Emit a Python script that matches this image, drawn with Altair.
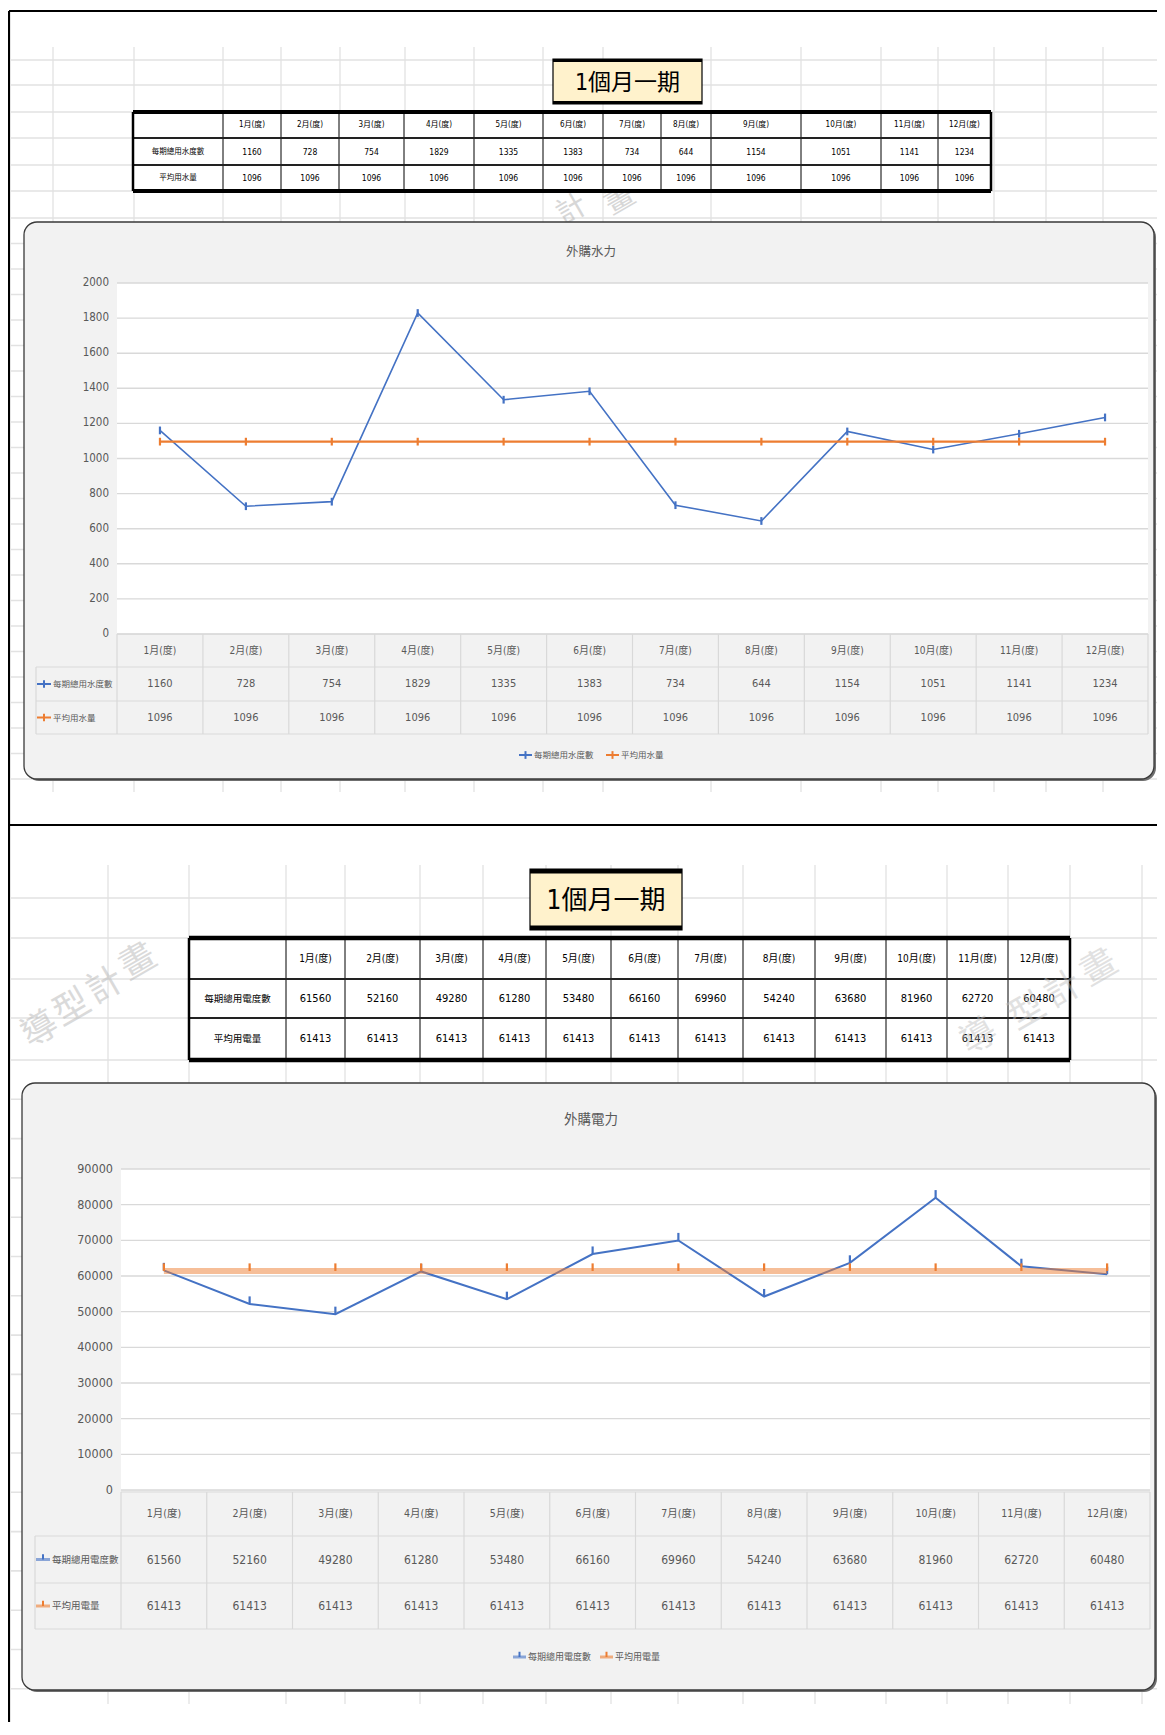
import altair as alt
import pandas as pd

# ---------------- data ----------------
box_title = "1個月一期"
months = ["1月(度)", "2月(度)", "3月(度)", "4月(度)", "5月(度)", "6月(度)",
          "7月(度)", "8月(度)", "9月(度)", "10月(度)", "11月(度)", "12月(度)"]

water_title = "外購水力"
water_series = ["每期總用水度數", "平均用水量"]
water_use = [1160, 728, 754, 1829, 1335, 1383, 734, 644, 1154, 1051, 1141, 1234]
water_avg = [1096, 1096, 1096, 1096, 1096, 1096, 1096, 1096, 1096, 1096, 1096, 1096]
water_ticks = [0, 200, 400, 600, 800, 1000, 1200, 1400, 1600, 1800, 2000]

elec_title = "外購電力"
elec_series = ["每期總用電度數", "平均用電量"]
elec_use = [61560, 52160, 49280, 61280, 53480, 66160, 69960, 54240, 63680, 81960, 62720, 60480]
elec_avg = [61413, 61413, 61413, 61413, 61413, 61413, 61413, 61413, 61413, 61413, 61413, 61413]
elec_ticks = [0, 10000, 20000, 30000, 40000, 50000, 60000, 70000, 80000, 90000]

watermark = ["導", "型", "計", "畫"]

# ---------------- layout / style ----------------
W, H = 1149, 1714
OX, OY = 8, 8
BLUE, ORANGE = "#4472C4", "#ED7D31"
GRID = "#D9D9D9"
SHEET = "#E2E2E2"
TXT = "#595959"
FONT = "Liberation Sans Narrow, Arial Narrow, DejaVu Sans Condensed, Noto Sans CJK TC, sans-serif"


def SX():
    return alt.Scale(domain=[OX, OX + W], range=[0, W])


def SY():
    return alt.Scale(domain=[OY, OY + H], range=[0, H])


def seg_layer(rows, color, width, opacity=1.0):
    df = pd.DataFrame(rows, columns=["x", "y", "x2", "y2"])
    return alt.Chart(df).mark_rule(color=color, strokeWidth=width, opacity=opacity).encode(
        x=alt.X("x:Q", scale=SX(), axis=None), y=alt.Y("y:Q", scale=SY(), axis=None),
        x2="x2:Q", y2="y2:Q")


def box_layer(rows, fill, stroke=None, sw=0, radius=0):
    df = pd.DataFrame(rows, columns=["x", "y", "x2", "y2"])
    kw = dict(fill=fill, cornerRadius=radius)
    if stroke:
        kw.update(stroke=stroke, strokeWidth=sw)
    return alt.Chart(df).mark_rect(**kw).encode(
        x=alt.X("x:Q", scale=SX(), axis=None), y=alt.Y("y:Q", scale=SY(), axis=None),
        x2="x2:Q", y2="y2:Q")


def text_layer(rows, size, color="black", align="center", angle=0, opacity=1.0):
    df = pd.DataFrame(rows, columns=["x", "y", "t"])
    return alt.Chart(df).mark_text(fontSize=size, color=color, align=align, baseline="middle",
                                   font=FONT, angle=angle, opacity=opacity).encode(
        x=alt.X("x:Q", scale=SX(), axis=None), y=alt.Y("y:Q", scale=SY(), axis=None), text="t:N")


def mark_layer(rows, color, shape, size, sw=2.0, opacity=1.0):
    df = pd.DataFrame(rows, columns=["x", "y"])
    return alt.Chart(df).mark_point(shape=shape, size=size, filled=False, color=color,
                                    strokeWidth=sw, opacity=opacity).encode(
        x=alt.X("x:Q", scale=SX(), axis=None), y=alt.Y("y:Q", scale=SY(), axis=None))


def swatch(x, y, color, g, length=15):
    out = [seg_layer([(x, y, x + length, y)], color, g["lw_sw"], g["sw_op"])]
    out.append(mark_layer([(x + length / 2, y)], color, g["shape"], g["msize_sw"], 2.0))
    return out


def sheet_table(xe, ye, labels, use, avg, fs_head, fs_val, fs_lab, outer_w):
    L = [box_layer([(xe[0], ye[0], xe[-1], ye[-1])], "white")]
    L.append(seg_layer([(x, ye[0], x, ye[-1]) for x in xe[1:-1]], "black", 1))
    L.append(seg_layer([(xe[0], y, xe[-1], y) for y in ye[1:-1]], "#222222", 2))
    L.append(seg_layer([(xe[0], ye[0], xe[-1], ye[0]), (xe[0], ye[-1], xe[-1], ye[-1])], "black", outer_w))
    L.append(seg_layer([(xe[0], ye[0], xe[0], ye[-1]), (xe[-1], ye[0], xe[-1], ye[-1])], "black", 2.5))
    cx = [(a + b) / 2 for a, b in zip(xe[:-1], xe[1:])]
    cy = [(a + b) / 2 for a, b in zip(ye[:-1], ye[1:])]
    L.append(text_layer([(cx[i + 1], cy[0], m) for i, m in enumerate(months)], fs_head))
    L.append(text_layer([(cx[i + 1], cy[1], str(v)) for i, v in enumerate(use)] +
                        [(cx[i + 1], cy[2], str(v)) for i, v in enumerate(avg)], fs_val))
    L.append(text_layer([(cx[0], cy[1], labels[0]), (cx[0], cy[2], labels[1])], fs_lab))
    return L


def title_box(x0, y0, x1, y1, fs, bw):
    L = [box_layer([(x0, y0, x1, y1)], "#FFF2CC", stroke="black", sw=1.2)]
    L.append(seg_layer([(x0, y0 + bw / 2, x1, y0 + bw / 2), (x0, y1 - bw / 2, x1, y1 - bw / 2)], "black", bw))
    L.append(text_layer([((x0 + x1) / 2, (y0 + y1) / 2 + 1, box_title)], fs))
    return L


def line_chart(use, avg, series, ticks, ymax, title, g):
    L = []
    px0, py1, px1, py0 = g["plot"]
    xs = alt.Scale(domain=[-0.5, 11.5], range=[px0 - OX, px1 - OX])
    ys = alt.Scale(domain=[0, ymax], range=[py0 - OY, py1 - OY], nice=False, zero=False)
    df = pd.DataFrame({"idx": list(range(12)), "month": months, "use": use, "avg": avg})
    df["use_s"] = [str(v) for v in use]
    df["avg_s"] = [str(v) for v in avg]
    x0, y0, x1, y1 = g["panel"]
    L.append(box_layer([(x0 + 2, y0 + 2, x1 + 2, y1 + 2)], "#6F6F6F", radius=13))
    L.append(box_layer([(x0, y0, x1, y1)], "#F2F2F2", stroke="#3A3A3A", sw=1.3, radius=13))
    L.append(box_layer([(px0, py1, px1, py0)], "white"))
    tdf = pd.DataFrame({"v": ticks, "lab": [str(t) for t in ticks]})
    L.append(alt.Chart(tdf).mark_rule(color=GRID, strokeWidth=1.4).encode(
        y=alt.Y("v:Q", scale=ys, axis=None), x=alt.value(px0 - OX), x2=alt.value(px1 - OX)))
    L.append(alt.Chart(tdf).mark_text(align="right", baseline="middle", fontSize=g["fs_y"],
                                      color=TXT, font=FONT).encode(
        y=alt.Y("v:Q", scale=ys, axis=None), x=alt.value(g["ylab_x"] - OX), text="lab:N"))
    L.append(text_layer([(g["title"][0], g["title"][1], title)], g["fs_title"], color=TXT))
    # data table
    r = g["trows"]
    lx = g["tlab_x0"]
    edges = pd.DataFrame({"e": [i - 0.5 for i in range(13)]})
    L.append(alt.Chart(edges).mark_rule(color=GRID, strokeWidth=1.2).encode(
        x=alt.X("e:Q", scale=xs, axis=None), y=alt.value(r[0] - OY), y2=alt.value(r[3] - OY)))
    L.append(seg_layer([(px0, r[0], px1, r[0])] + [(lx, y, px1, y) for y in r[1:]] +
                       [(lx, r[1], lx, r[3])], GRID, 1.2))
    cy = [(r[i] + r[i + 1]) / 2 for i in range(3)]
    ex = alt.X("idx:Q", scale=xs, axis=None)
    L.append(alt.Chart(df).mark_text(fontSize=g["fs_head"], color=TXT, font=FONT, baseline="middle").encode(
        x=ex, y=alt.value(cy[0] - OY), text="month:N"))
    L.append(alt.Chart(df).mark_text(fontSize=g["fs_val"], color=TXT, font=FONT, baseline="middle").encode(
        x=ex, y=alt.value(cy[1] - OY), text="use_s:N"))
    L.append(alt.Chart(df).mark_text(fontSize=g["fs_val"], color=TXT, font=FONT, baseline="middle").encode(
        x=ex, y=alt.value(cy[2] - OY), text="avg_s:N"))
    L += swatch(lx + 1, cy[1], BLUE, g, 14)
    L += swatch(lx + 1, cy[2], ORANGE, g, 14)
    L.append(text_layer([(lx + 17, cy[1], series[0]), (lx + 17, cy[2], series[1])],
                        g["fs_lab"], color=TXT, align="left"))
    # series
    ey_u = alt.Y("use:Q", scale=ys, axis=None)
    ey_a = alt.Y("avg:Q", scale=ys, axis=None)
    L.append(alt.Chart(df).mark_line(color=BLUE, strokeWidth=g["lw_use"]).encode(x=ex, y=ey_u))
    L.append(alt.Chart(df).mark_point(shape=g["shape"], size=g["msize"], filled=False, color=BLUE,
                                      strokeWidth=2.2, opacity=1).encode(x=ex, y=ey_u))
    L.append(alt.Chart(df).mark_line(color=ORANGE, strokeWidth=g["lw_avg"], opacity=g["avg_op"]).encode(x=ex, y=ey_a))
    L.append(alt.Chart(df).mark_point(shape=g["shape"], size=g["msize"], filled=False, color=ORANGE,
                                      strokeWidth=2.2, opacity=1).encode(x=ex, y=ey_a))
    # legend
    (bx, btx), (ox, otx) = g["legend"]
    ly = g["legend_y"]
    L += swatch(bx, ly, BLUE, g, 13)
    L += swatch(ox, ly, ORANGE, g, 13)
    L.append(text_layer([(btx, ly, series[0]), (otx, ly, series[1])], g["fs_leg"], color=TXT, align="left"))
    return L


G1 = dict(panel=(24, 222, 1154, 779), plot=(117, 283, 1148, 634), ylab_x=109, title=(591, 252),
          trows=[634, 667, 701, 734], tlab_x0=36, legend_y=755, legend=[(519, 534), (606, 621)],
          fs_title=12.5, fs_y=11.5, fs_head=10, fs_val=11, fs_lab=8.5, fs_leg=8.5,
          shape="M0,-1L0,1", msize=60, msize_sw=60, lw_use=1.6, lw_avg=2.2, avg_op=1.0, lw_sw=2, sw_op=1.0)
G2 = dict(panel=(22, 1083, 1155, 1690), plot=(121, 1169, 1150, 1490), ylab_x=113, title=(591, 1120),
          trows=[1492, 1536, 1583, 1629], tlab_x0=35, legend_y=1657, legend=[(513, 528), (600, 615)],
          fs_title=13.5, fs_y=12.5, fs_head=10.5, fs_val=12, fs_lab=9.5, fs_leg=9,
          shape="M0,-1L0,0", msize=230, msize_sw=110, lw_use=2.0, lw_avg=6, avg_op=0.5, lw_sw=3, sw_op=0.6)

layers = []

# spreadsheet grid, top screenshot
vx_top = [53, 134, 223, 281, 340, 405, 474, 543, 603, 711, 801, 881, 938, 994, 1046, 1103]
hy_top = [60, 85, 112, 138, 165, 191, 218] + [218 + 25.5 * k for k in range(1, 23)]
layers.append(seg_layer([(x, 47, x, 792) for x in vx_top], SHEET, 1.3))
layers.append(seg_layer([(11, y, OX + W, y) for y in hy_top], SHEET, 1.6))
# spreadsheet grid, bottom screenshot
vx_bot = [108, 189, 286, 345, 420, 483, 546, 611, 678, 743, 815, 886, 947, 1008, 1070, 1142]
hy_bot = [898, 938, 979, 1018, 1060] + [1060 + 39.3 * k for k in range(1, 17)]
layers.append(seg_layer([(x, 865, x, 1704) for x in vx_bot], SHEET, 1.3))
layers.append(seg_layer([(11, y, OX + W, y) for y in hy_bot], SHEET, 1.6))

# watermark glimpses (behind)
layers.append(text_layer([(572, 210, watermark[2]), (620, 200, watermark[3])], 30,
                         color="#BDBDBD", angle=330, opacity=0.6))
layers.append(text_layer([(40, 1030, watermark[0]), (72, 1008, watermark[1]),
                          (105, 986, watermark[2]), (138, 962, watermark[3])], 36,
                         color="#BDBDBD", angle=330, opacity=0.55))

# screenshot frames
layers.append(seg_layer([(9, 11, OX + W, 11), (9, 825, OX + W, 825), (9, 11, 9, OY + H)], "black", 2.2))

# top screenshot
layers += title_box(553, 59, 702, 104, 23, 3)
X1 = [133, 223, 281, 339, 404, 474, 543, 603, 661, 711, 801, 881, 938, 991]
Y1 = [112, 138, 165, 191]
layers += sheet_table(X1, Y1, water_series, water_use, water_avg, 8, 8.5, 7.5, 4)
layers += line_chart(water_use, water_avg, water_series, water_ticks, 2000, water_title, G1)

# bottom screenshot
layers += title_box(530, 869, 682, 930, 26, 4.5)
X2 = [189, 286, 345, 420, 483, 546, 611, 678, 743, 815, 886, 947, 1008, 1070]
Y2 = [938, 979, 1018, 1060]
layers += sheet_table(X2, Y2, elec_series, elec_use, elec_avg, 10, 11, 9.5, 4.5)
layers.append(text_layer([(1099, 968, watermark[3]), (1063, 990, watermark[2]), (1027, 1012, watermark[1]),
                          (979, 1037, watermark[0])], 36, color="#BDBDBD", angle=330, opacity=0.45))
layers += line_chart(elec_use, elec_avg, elec_series, elec_ticks, 90000, elec_title, G2)

chart = alt.layer(*layers).resolve_scale(x="independent", y="independent").properties(
    width=W, height=H, padding=0, autosize=alt.AutoSizeParams(type="none"), background="white"
).configure_view(stroke=None)

chart.save("out.html", embed_options={"renderer": "svg", "actions": False})
